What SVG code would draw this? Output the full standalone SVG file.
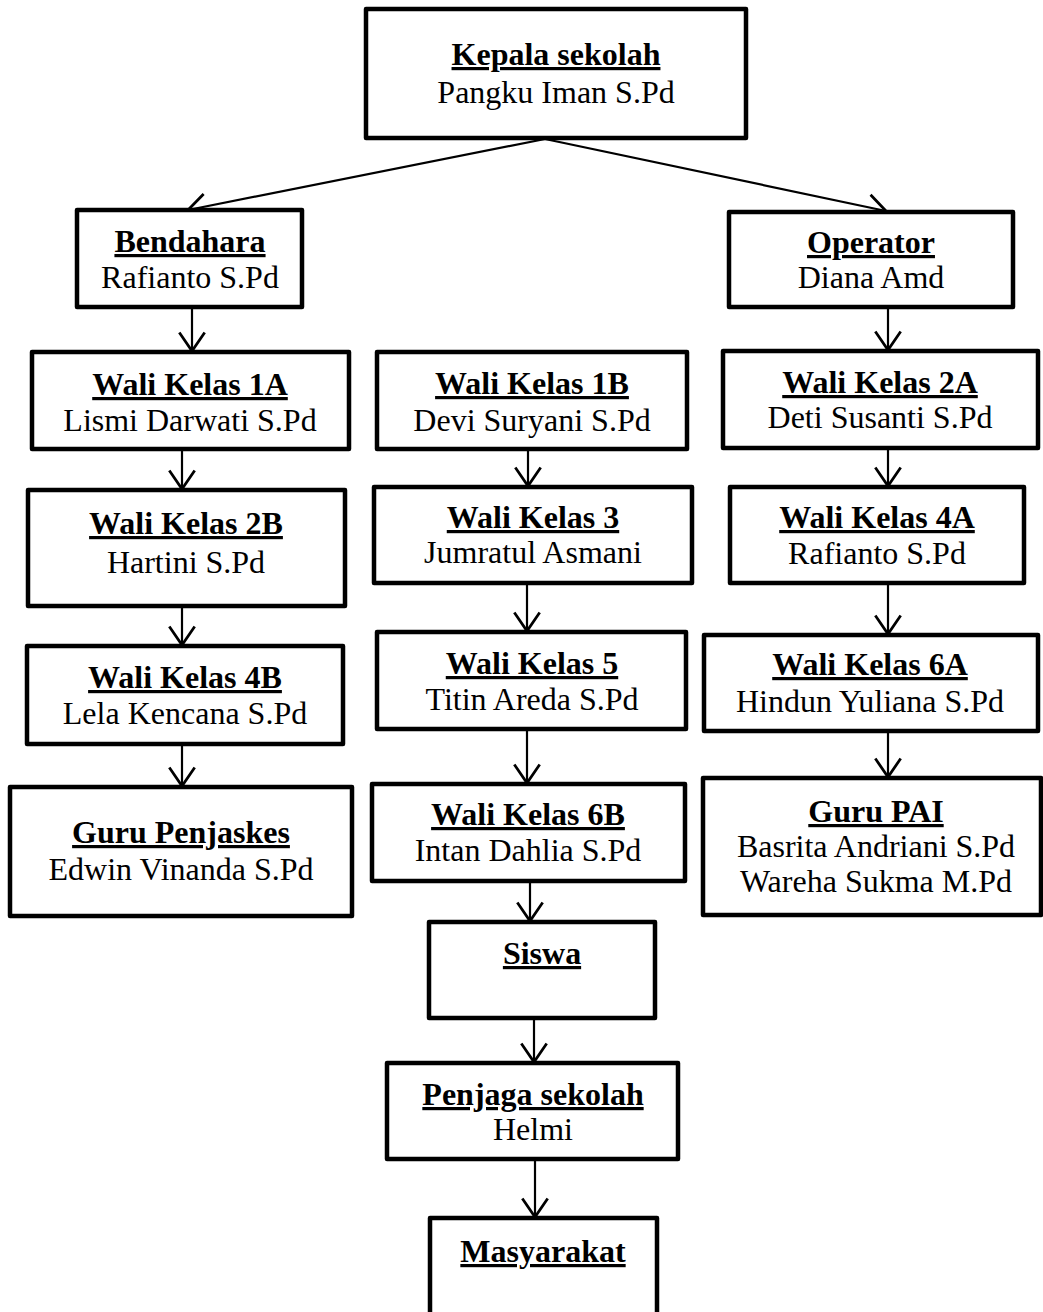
<svg xmlns="http://www.w3.org/2000/svg" width="1043" height="1312" viewBox="0 0 1043 1312">
<style>
.box{fill:#fff;stroke:#000;stroke-width:4.5;stroke-linejoin:round}
.t{font-family:"Liberation Serif","Times New Roman",serif;font-size:32px;text-anchor:middle;fill:#000}
.h{font-weight:bold;text-decoration:underline}
.c{fill:none;stroke:#000;stroke-width:2.2}
</style>
<defs>
<marker id="ar" markerUnits="userSpaceOnUse" markerWidth="30" markerHeight="30" viewBox="-18 -13 20 26" refX="0" refY="0" orient="auto">
<path d="M-16,-11 L0,0 L-16,11" fill="none" stroke="#000" stroke-width="2.4"/>
</marker>
</defs>
<rect width="1043" height="1312" fill="#fff"/>
<g id="connectors">
<line class="c" x1="545" y1="139" x2="188" y2="210" marker-end="url(#ar)"/>
<line class="c" x1="545" y1="139" x2="886" y2="211" marker-end="url(#ar)"/>
<line class="c" x1="192" y1="307" x2="192" y2="351" marker-end="url(#ar)"/>
<line class="c" x1="182" y1="449" x2="182" y2="489" marker-end="url(#ar)"/>
<line class="c" x1="182" y1="606" x2="182" y2="645" marker-end="url(#ar)"/>
<line class="c" x1="182" y1="744" x2="182" y2="786" marker-end="url(#ar)"/>
<line class="c" x1="528" y1="449" x2="528" y2="486" marker-end="url(#ar)"/>
<line class="c" x1="527" y1="583" x2="527" y2="631" marker-end="url(#ar)"/>
<line class="c" x1="527" y1="729" x2="527" y2="783" marker-end="url(#ar)"/>
<line class="c" x1="530" y1="881" x2="530" y2="921" marker-end="url(#ar)"/>
<line class="c" x1="534" y1="1018" x2="534" y2="1062" marker-end="url(#ar)"/>
<line class="c" x1="535" y1="1159" x2="535" y2="1217" marker-end="url(#ar)"/>
<line class="c" x1="888" y1="307" x2="888" y2="350" marker-end="url(#ar)"/>
<line class="c" x1="888" y1="448" x2="888" y2="486" marker-end="url(#ar)"/>
<line class="c" x1="888" y1="583" x2="888" y2="634" marker-end="url(#ar)"/>
<line class="c" x1="888" y1="731" x2="888" y2="777" marker-end="url(#ar)"/>
</g>
<g id="kepala"><rect class="box" x="366" y="9" width="380" height="129"/><text class="t h" x="556" y="65">Kepala sekolah</text><text class="t" x="556" y="103">Pangku Iman S.Pd</text></g>
<g id="bendahara"><rect class="box" x="77" y="210" width="225" height="97"/><text class="t h" x="190" y="252">Bendahara</text><text class="t" x="190" y="288">Rafianto S.Pd</text></g>
<g id="operator"><rect class="box" x="729" y="212" width="284" height="95"/><text class="t h" x="871" y="253">Operator</text><text class="t" x="871" y="288">Diana Amd</text></g>
<g id="wali1a"><rect class="box" x="32" y="352" width="317" height="97"/><text class="t h" x="190" y="395">Wali Kelas 1A</text><text class="t" x="190" y="431">Lismi Darwati S.Pd</text></g>
<g id="wali2b"><rect class="box" x="28" y="490" width="317" height="116"/><text class="t h" x="186" y="534">Wali Kelas 2B</text><text class="t" x="186" y="573">Hartini S.Pd</text></g>
<g id="wali4b"><rect class="box" x="27" y="646" width="316" height="98"/><text class="t h" x="185" y="688">Wali Kelas 4B</text><text class="t" x="185" y="724">Lela Kencana S.Pd</text></g>
<g id="penjaskes"><rect class="box" x="10" y="787" width="342" height="129"/><text class="t h" x="181" y="843">Guru Penjaskes</text><text class="t" x="181" y="880">Edwin Vinanda S.Pd</text></g>
<g id="wali1b"><rect class="box" x="377" y="352" width="310" height="97"/><text class="t h" x="532" y="394">Wali Kelas 1B</text><text class="t" x="532" y="431">Devi Suryani S.Pd</text></g>
<g id="wali3"><rect class="box" x="374" y="487" width="318" height="96"/><text class="t h" x="533" y="528">Wali Kelas 3</text><text class="t" x="533" y="563">Jumratul Asmani</text></g>
<g id="wali5"><rect class="box" x="377" y="632" width="309" height="97"/><text class="t h" x="532" y="674">Wali Kelas 5</text><text class="t" x="532" y="710">Titin Areda S.Pd</text></g>
<g id="wali6b"><rect class="box" x="372" y="784" width="313" height="97"/><text class="t h" x="528" y="825">Wali Kelas 6B</text><text class="t" x="528" y="861">Intan Dahlia S.Pd</text></g>
<g id="siswa"><rect class="box" x="429" y="922" width="226" height="96"/><text class="t h" x="542" y="964">Siswa</text></g>
<g id="penjaga"><rect class="box" x="387" y="1063" width="291" height="96"/><text class="t h" x="533" y="1105">Penjaga sekolah</text><text class="t" x="533" y="1140">Helmi</text></g>
<g id="masyarakat"><rect class="box" x="430" y="1218" width="227" height="110"/><text class="t h" x="543" y="1262">Masyarakat</text></g>
<g id="wali2a"><rect class="box" x="723" y="351" width="315" height="97"/><text class="t h" x="880" y="393">Wali Kelas 2A</text><text class="t" x="880" y="428">Deti Susanti S.Pd</text></g>
<g id="wali4a"><rect class="box" x="730" y="487" width="294" height="96"/><text class="t h" x="877" y="528">Wali Kelas 4A</text><text class="t" x="877" y="564">Rafianto S.Pd</text></g>
<g id="wali6a"><rect class="box" x="704" y="635" width="334" height="96"/><text class="t h" x="870" y="675">Wali Kelas 6A</text><text class="t" x="870" y="712">Hindun Yuliana S.Pd</text></g>
<g id="gurupai"><rect class="box" x="703" y="778" width="338" height="137"/><text class="t h" x="876" y="822">Guru PAI</text><text class="t" x="876" y="857">Basrita Andriani S.Pd</text><text class="t" x="876" y="892">Wareha Sukma M.Pd</text></g>
</svg>
